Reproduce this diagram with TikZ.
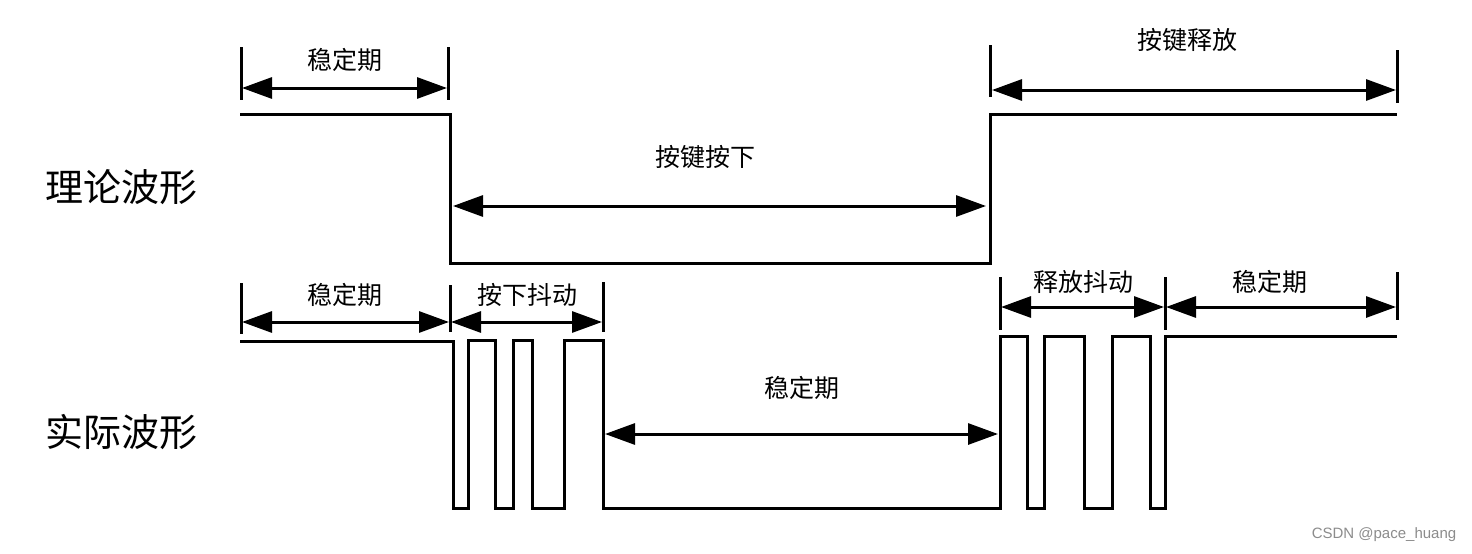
\documentclass[tikz,border=0pt]{standalone}
\usepackage{fontspec}
\setmainfont{Liberation Sans}
\newfontfamily\cjk{Noto Sans CJK SC}
\usetikzlibrary{arrows.meta}
\begin{document}
\begin{tikzpicture}[x=1pt,y=-1pt,
  wave/.style={line width=3pt,line join=miter},
  tick/.style={line width=3pt},
  dim/.style={line width=3pt,{Triangle[length=30pt,width=21pt]}-{Triangle[length=30pt,width=21pt]}},
  lbl/.style={font=\cjk\fontsize{25}{27}\selectfont,inner sep=0pt},
  big/.style={font=\cjk\fontsize{38}{42}\selectfont,inner sep=0pt}]
\fill[white] (0,0) rectangle (1472,554);
\useasboundingbox (0,0) rectangle (1472,554);
% left labels
\node[big] (t1) at (121,187) {理论波形};
\node[big] (t2) at (121,432) {实际波形};
% theoretical waveform
\draw[wave] (240,114) -- (450,114) -- (450,263) -- (990,263) -- (990,114) -- (1397,114);
% top dimension ticks
\coordinate (a1) at (241,47); \coordinate (a2) at (241,100);
\coordinate (b1) at (448,47); \coordinate (b2) at (448,100);
\coordinate (c1) at (990,45); \coordinate (c2) at (990,97);
\coordinate (d1) at (1397,50); \coordinate (d2) at (1397,103);
\draw[tick] (a1) -- (a2); \draw[tick] (b1) -- (b2);
\draw[tick] (c1) -- (c2); \draw[tick] (d1) -- (d2);
\coordinate (s1l) at (242,88); \coordinate (s1r) at (447,88);
\draw[dim] (s1l) -- (s1r);
\node[lbl] (l1) at (345,60) {稳定期};
\coordinate (pl) at (453,206); \coordinate (pr) at (986,206);
\draw[dim] (pl) -- (pr);
\node[lbl] (l2) at (705,157) {按键按下};
\coordinate (rl) at (992,90); \coordinate (rr) at (1396,90);
\draw[dim] (rl) -- (rr);
\node[lbl] (l3) at (1187,40) {按键释放};
% actual waveform
\draw[wave] (240,341) -- (453,341) -- (453,508) -- (468,508) -- (468,340) -- (495,340) -- (495,508)
  -- (513,508) -- (513,340) -- (532,340) -- (532,508) -- (564,508) -- (564,340) -- (603,340)
  -- (603,508) -- (1000,508) -- (1000,336) -- (1027,336) -- (1027,508) -- (1044,508) -- (1044,336)
  -- (1084,336) -- (1084,508) -- (1112,508) -- (1112,336) -- (1150,336) -- (1150,508) -- (1165,508)
  -- (1165,336) -- (1397,336);
% bottom ticks
\coordinate (e1) at (241,283); \coordinate (e2) at (241,334);
\coordinate (f1) at (450,285); \coordinate (f2) at (450,332);
\coordinate (g1) at (603,282); \coordinate (g2) at (603,332);
\coordinate (h1) at (1000,277); \coordinate (h2) at (1000,330);
\coordinate (i1) at (1165,277); \coordinate (i2) at (1165,330);
\coordinate (j1) at (1397,272); \coordinate (j2) at (1397,320);
\draw[tick] (e1) -- (e2); \draw[tick] (f1) -- (f2); \draw[tick] (g1) -- (g2);
\draw[tick] (h1) -- (h2); \draw[tick] (i1) -- (i2); \draw[tick] (j1) -- (j2);
\coordinate (k1) at (242,322); \coordinate (k2) at (449,322);
\draw[dim] (k1) -- (k2);
\node[lbl] (l4) at (345,295) {稳定期};
\coordinate (m1) at (451,322); \coordinate (m2) at (602,322);
\draw[dim] (m1) -- (m2);
\node[lbl] (l5) at (527,295) {按下抖动};
\coordinate (n1) at (605,434); \coordinate (n2) at (998,434);
\draw[dim] (n1) -- (n2);
\node[lbl] (l6) at (802,388) {稳定期};
\coordinate (o1) at (1001,307); \coordinate (o2) at (1164,307);
\draw[dim] (o1) -- (o2);
\node[lbl] (l7) at (1083,282) {释放抖动};
\coordinate (q1) at (1166,307); \coordinate (q2) at (1396,307);
\draw[dim] (q1) -- (q2);
\node[lbl] (l8) at (1270,282) {稳定期};
% watermark
\node[font=\fontsize{15}{16}\selectfont,text=black!45,inner sep=0pt] (wm) at (1384,535) {CSDN @pace\_huang};
\end{tikzpicture}
\end{document}
